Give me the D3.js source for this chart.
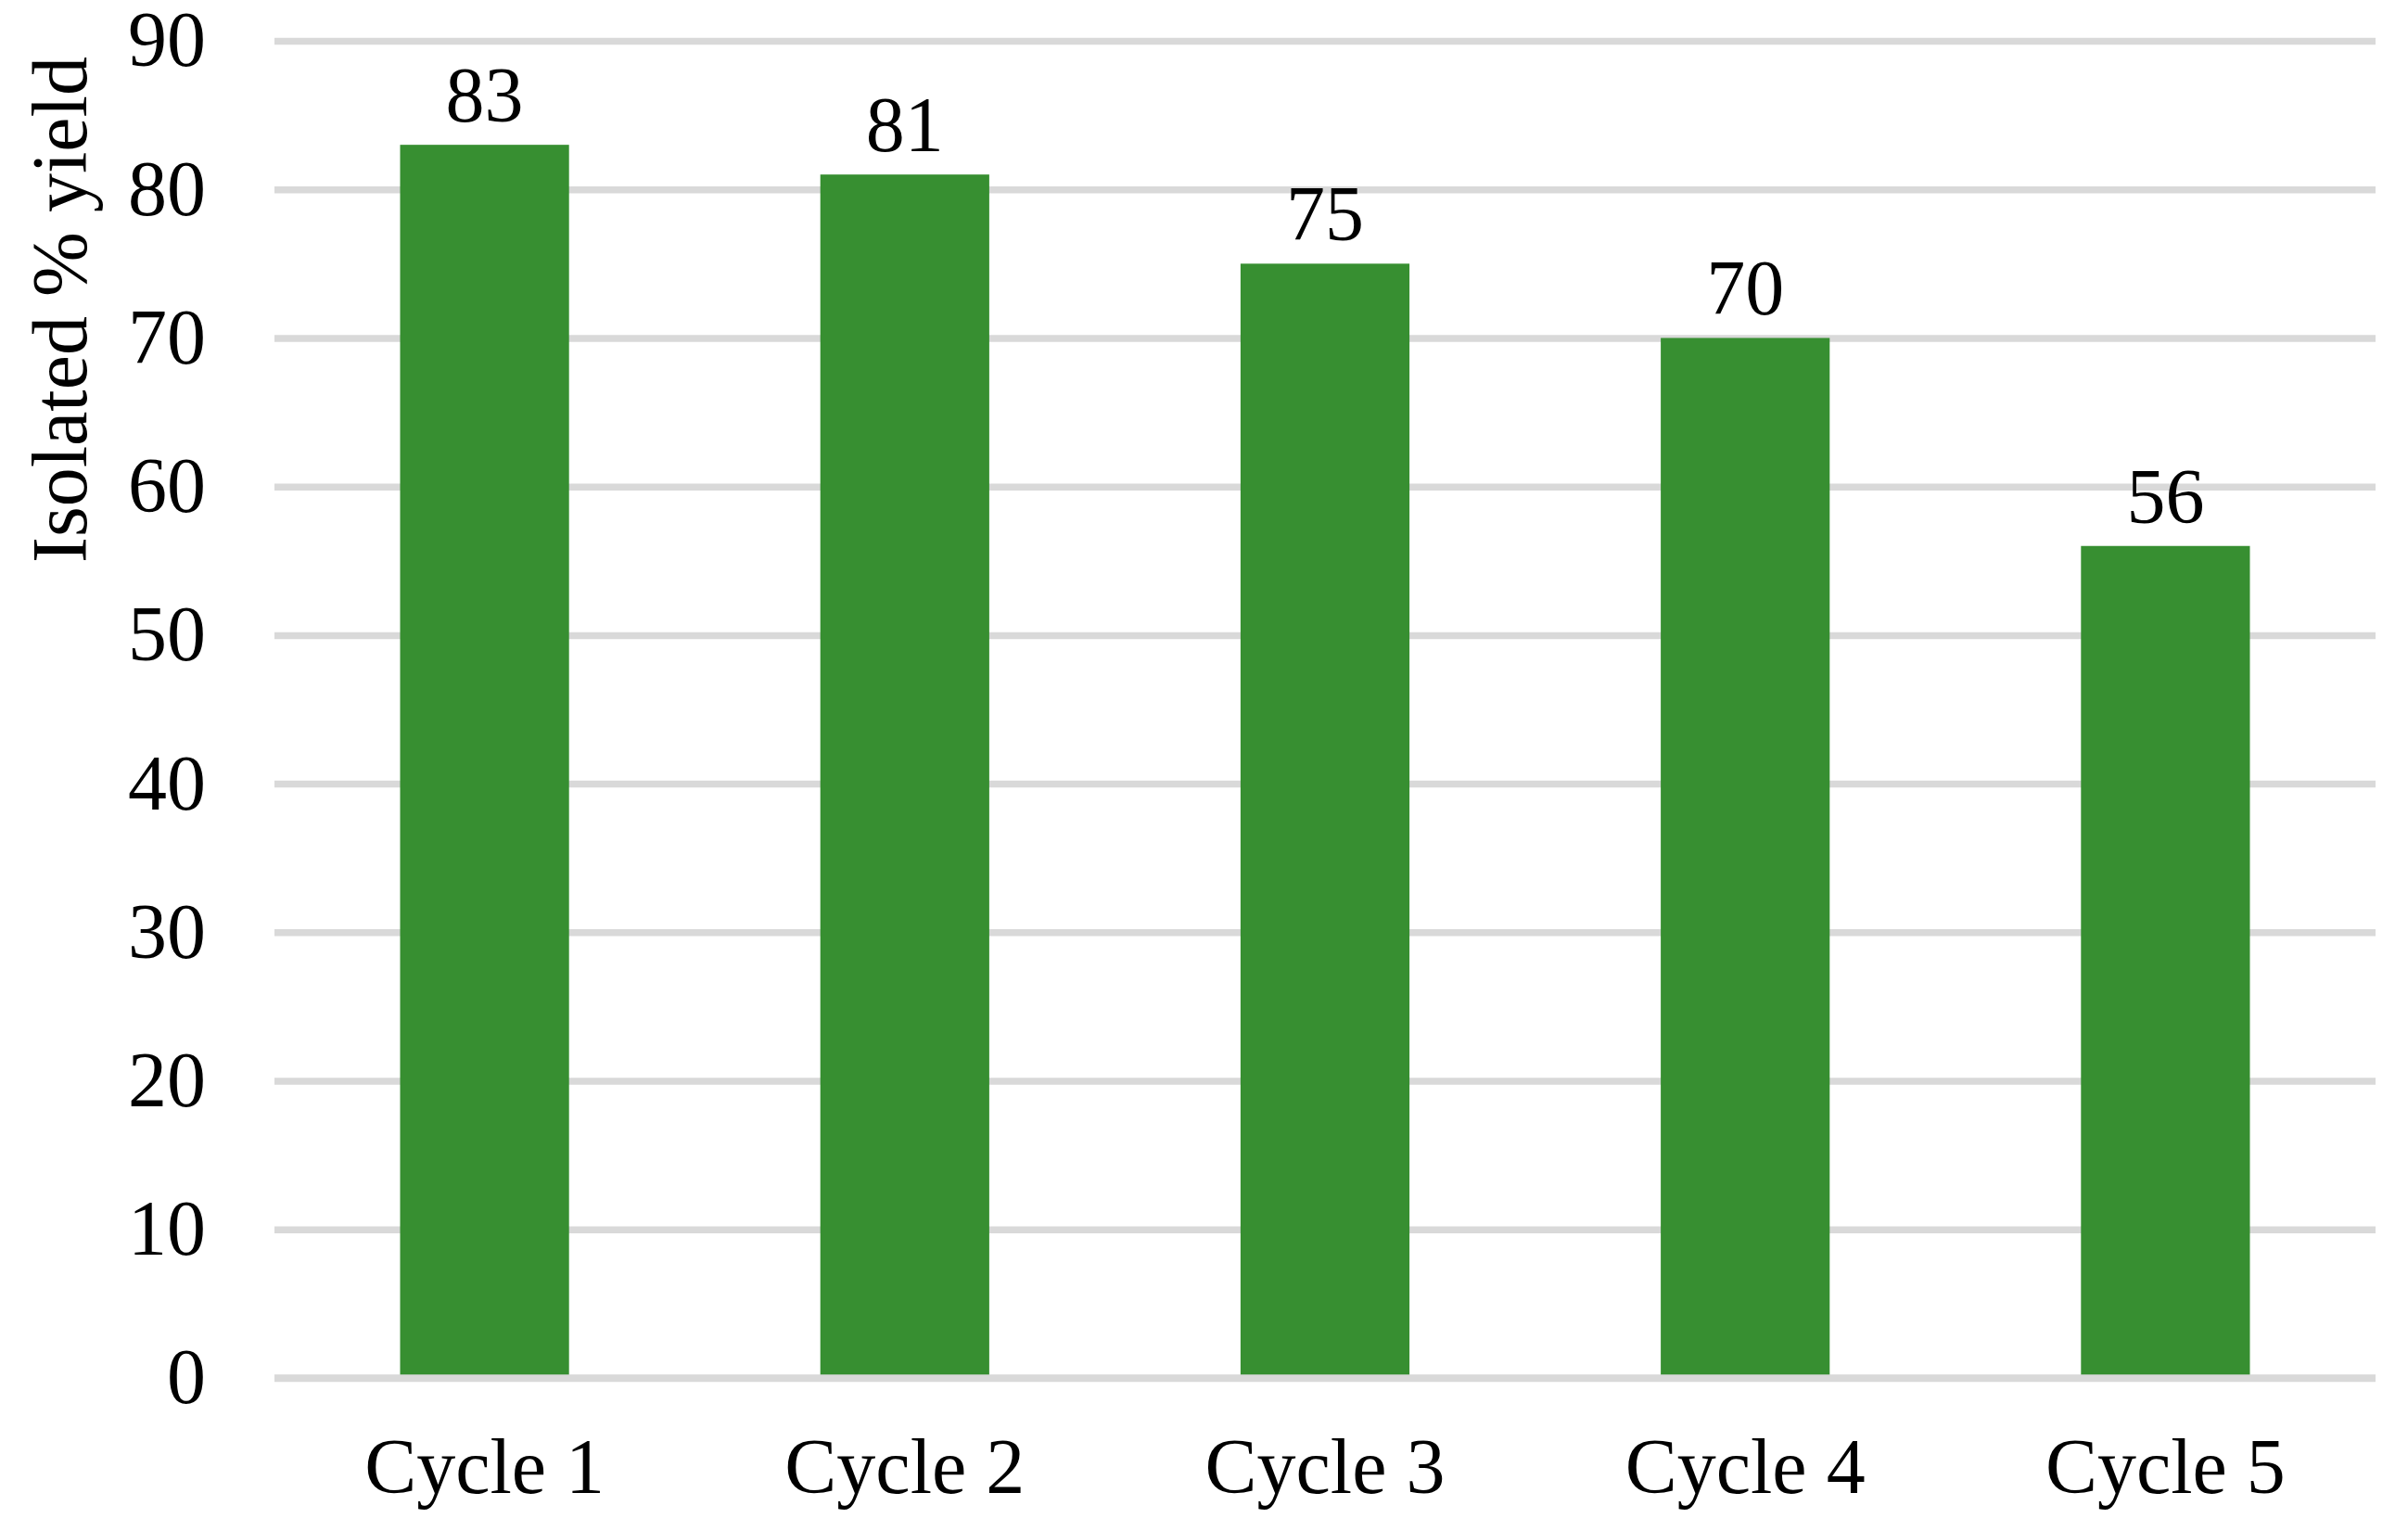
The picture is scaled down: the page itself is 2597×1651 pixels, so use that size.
<!DOCTYPE html>
<html>
<head>
<meta charset="utf-8">
<script src="https://cdn.jsdelivr.net/npm/d3@7"></script>
<style>
  body { margin: 0; background: #fff; }
  svg { display: block; font-family: "Liberation Serif", "Times New Roman", serif; }
</style>
</head>
<body>
<script>
const categories = ['Cycle 1', 'Cycle 2', 'Cycle 3', 'Cycle 4', 'Cycle 5'];
const yields = [83, 81, 75, 70, 56];
const yTicks = [0, 10, 20, 30, 40, 50, 60, 70, 80, 90];

const width = 2597;
const height = 1651;
const plotLeft = 296, plotRight = 2562, plotTop = 44, plotBottom = 1486;
const fontSize = 84;

const svg = d3.select('body').append('svg').attr('width', width).attr('height', height);

const x = d3.scaleBand().domain(categories).range([plotLeft, plotRight])
    .paddingInner(0.598).paddingOuter(0.299);
const y = d3.scaleLinear().domain([0, 90]).range([plotBottom, plotTop]);

// gridlines + y tick labels
const yAxis = svg.append('g')
    .attr('transform', `translate(${plotLeft},0)`)
    .call(d3.axisLeft(y).tickValues(yTicks).tickSize(-(plotRight - plotLeft)).tickPadding(74));
yAxis.select('.domain').remove();
yAxis.selectAll('.tick line').attr('stroke', '#d9d9d9').attr('stroke-width', 7.5);
yAxis.selectAll('.tick text')
    .attr('font-size', fontSize).attr('fill', '#000')
    .attr('font-family', '"Liberation Serif", "Times New Roman", serif');

// bars
svg.append('g').selectAll('rect')
    .data(yields)
    .enter().append('rect')
    .attr('x', (d, i) => x(categories[i]))
    .attr('y', d => y(d))
    .attr('width', x.bandwidth())
    .attr('height', d => y(0) - y(d))
    .attr('fill', '#378f31');

// horizontal axis line on top of bars
svg.append('line')
    .attr('x1', plotLeft).attr('x2', plotRight)
    .attr('y1', y(0)).attr('y2', y(0))
    .attr('stroke', '#d9d9d9').attr('stroke-width', 7.5);

// value labels
svg.append('g').selectAll('text')
    .data(yields)
    .enter().append('text')
    .attr('x', (d, i) => x(categories[i]) + x.bandwidth() / 2)
    .attr('y', d => y(d) - 25)
    .attr('text-anchor', 'middle')
    .attr('font-size', fontSize)
    .text(d => d);

// category labels
svg.append('g').selectAll('text')
    .data(categories)
    .enter().append('text')
    .attr('x', d => x(d) + x.bandwidth() / 2)
    .attr('y', 1610)
    .attr('text-anchor', 'middle')
    .attr('font-size', fontSize)
    .text(d => d);

// y axis title
svg.append('text')
    .attr('transform', 'translate(93,334) rotate(-90)')
    .attr('text-anchor', 'middle')
    .attr('font-size', fontSize)
    .text('Isolated % yield');
</script>
</body>
</html>
